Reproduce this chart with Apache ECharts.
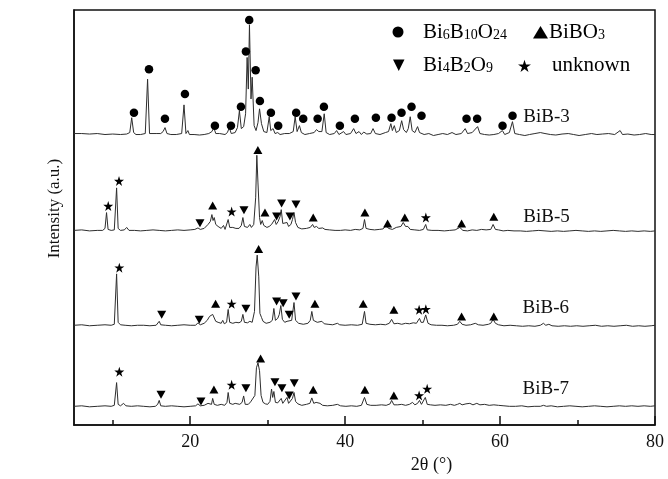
<!DOCTYPE html>
<html>
<head>
<meta charset="utf-8">
<title>XRD BiB samples</title>
<script src="https://cdn.jsdelivr.net/npm/echarts@6/dist/echarts.min.js"></script>
<style>
  html, body { margin: 0; padding: 0; background: #fff; }
  #chart { width: 668px; height: 479px; }
</style>
</head>
<body>
<div id="chart"></div>
<script>
// x ticks
const xTickLabels = [20, 40, 60, 80];
const xMinorTicks = [10, 30, 50, 70];

// traces: [2θ, intensity incl. stacking offset]
const bib3 = [
  [5,295],[6,295],[7,294.5],[8,295],[9,294],[10,294.5],[11,294],[11.8,294.5],[12.2,296],[12.45,311],[12.7,296],[13,294],[13.6,294],[14.2,295],[14.5,350],[14.75,295],[15,294],[15.6,295],[16.2,295],[16.5,297],[16.75,301],[17,295],[17.5,294],[18.2,294],[18.9,295],[19.2,324],[19.45,295],[19.7,298],[19.9,294],[20.5,294],[21.2,293.5],[21.8,294],[22.4,295],[22.8,297],[23.05,301],[23.3,295],[23.8,295],[24.5,294],[24.8,296],[25.05,301],[25.3,295],[25.8,296],[26.1,301],[26.35,318],[26.6,300],[26.9,302],[27.15,315],[27.35,372],[27.5,340],[27.65,405],[27.85,330],[28.0,352],[28.25,303],[28.5,298],[28.75,306],[28.95,320],[29.2,305],[29.5,297],[29.9,296],[30.2,312],[30.4,298],[30.7,300],[30.95,295],[31.3,296],[31.6,294],[32.2,295],[32.8,295],[33.3,297],[33.55,312],[33.8,297],[34.1,303],[34.35,296],[34.8,294],[35.4,295],[36.0,296],[36.3,299],[36.6,297],[37.0,297],[37.3,315],[37.55,296],[38.0,294],[38.6,295],[38.9,298],[39.2,294],[39.8,297],[40.1,294],[40.7,295],[41.1,300],[41.4,295],[41.8,297],[42.1,294],[42.4,296.5],[42.8,294.5],[43.3,295],[43.6,300],[43.9,295],[44.5,294],[45.2,296],[45.6,297],[45.9,305],[46.1,298],[46.35,303],[46.6,296],[47.0,298],[47.3,308],[47.55,299],[47.9,296],[48.15,300],[48.4,312],[48.65,298],[49.0,296],[49.35,302],[49.6,296],[50.2,294],[50.8,295],[51.4,293],[52.0,294],[52.6,295],[53.2,294],[53.8,296],[54.3,294],[55.0,295],[55.5,300],[55.8,295],[56.4,296],[57.1,302],[57.4,295],[58,294],[58.6,293.5],[59.2,294],[59.8,295],[60.3,298],[60.6,294],[61.2,296],[61.6,307],[61.9,295],[62.5,294],[63.2,293],[63.8,294],[64.5,295],[65.2,296],[65.8,295],[66.5,294],[67.2,293.5],[68,294.5],[68.8,295],[69.5,294],[70.2,293],[71,294],[71.8,295],[72.5,294],[73.2,294.5],[74,295],[74.8,294],[75.5,298],[75.8,294],[76.5,294.5],[77.3,293.5],[78,294],[78.8,295],[79.5,294],[80,294]
];
const bib5 = [
  [5,197],[6,197.5],[7,196.5],[8,197],[8.7,197],[9.0,199],[9.2,215],[9.4,198],[9.8,197],[10.2,197.5],[10.5,240],[10.7,199],[11.0,197],[11.5,197.5],[11.8,200],[12.1,197],[12.8,197],[13.6,196.5],[14.4,197],[15.2,197.5],[16,197],[16.8,196.5],[17.6,197],[18.4,197.5],[19.2,197],[20,197.5],[20.6,198],[21.0,199.5],[21.3,198],[21.8,199],[22.3,203],[22.6,206],[22.8,213],[22.95,207],[23.1,210],[23.3,203],[23.6,201],[24.0,199],[24.3,202],[24.5,198],[24.75,200],[24.9,208],[25.1,200],[25.5,200],[25.9,199],[26.3,199],[26.6,202],[26.8,210],[27.0,201],[27.4,200],[27.7,203],[27.9,200],[28.2,203],[28.45,230],[28.6,273],[28.75,245],[28.95,210],[29.1,203],[29.3,207],[29.5,202],[29.9,200],[30.2,201],[30.5,203],[30.7,201],[30.9,208],[31.1,203],[31.35,206],[31.6,211],[31.75,218],[31.95,204],[32.2,202],[32.5,205],[32.7,201],[33.0,203],[33.2,208],[33.4,215],[33.6,205],[33.9,200],[34.4,198.5],[35.0,199],[35.5,200],[35.8,203],[36.0,200],[36.3,201],[36.6,199],[37.1,199.5],[37.4,198],[38,197.5],[38.7,197],[39.4,197],[40,197.5],[40.7,197],[41.3,198],[41.9,197.5],[42.3,199],[42.5,208],[42.7,199],[43.2,198],[43.8,197.5],[44.4,198],[44.9,198.5],[45.3,202],[45.6,199],[46.1,198],[46.6,200],[47.2,201],[47.5,205],[47.8,201],[48.1,201],[48.4,198],[49.0,197.5],[49.6,197],[50.1,198],[50.4,203],[50.6,197.5],[51.2,197],[52,197],[52.8,196.5],[53.5,197],[54.2,197.5],[54.8,200],[55.2,197],[55.8,196.5],[56.4,197.5],[57.0,197],[57.6,198],[58.2,197.5],[58.8,198],[59.1,203],[59.4,198],[59.8,197.5],[60.4,196.5],[61,197],[61.8,196.5],[62.6,196.5],[63.4,196],[64.2,196.5],[65,197],[65.8,196.5],[66.6,196],[67.4,196.5],[68.2,196],[69,196.5],[69.8,197],[70.6,196.5],[71.4,196],[72.2,196.5],[73,196],[73.8,196.5],[74.6,197],[75.4,196.5],[76.2,196],[77,196.5],[77.8,196],[78.6,196.5],[79.4,196],[80,196.5]
];
const bib6 = [
  [5,101],[6,101.5],[7,100.5],[8,101],[9,101.5],[9.8,101],[10.2,102],[10.5,153],[10.7,104],[11.0,101.5],[11.6,101],[12.4,100.5],[13.2,101],[14,101],[14.8,100.5],[15.6,101],[15.85,103],[16.0,105],[16.2,101.5],[16.8,101],[17.6,100.5],[18.4,101],[19.2,101.5],[20,101],[20.7,101],[21.0,103.5],[21.3,101.5],[21.8,103],[22.2,106],[22.5,110],[22.7,108],[22.9,112],[23.1,110],[23.3,105],[23.6,104],[24.0,103],[24.2,106],[24.4,102.5],[24.7,104],[24.9,117],[25.1,104],[25.5,103],[25.9,104],[26.3,103.5],[26.6,105],[26.8,112],[27.0,104],[27.4,103.5],[27.7,105],[28.0,104],[28.3,115],[28.5,160],[28.65,172],[28.85,150],[29.0,113],[29.2,109],[29.4,105],[29.8,103],[30.3,104],[30.6,106],[30.8,118],[31.0,106],[31.3,108],[31.5,112],[31.7,121],[31.9,107],[32.2,104],[32.5,105],[32.7,103],[33.1,106],[33.4,124],[33.6,106],[34.0,103],[34.6,102],[35.2,103],[35.5,106],[35.7,115],[35.9,106],[36.1,108],[36.4,104],[37.0,105],[37.3,102.5],[37.8,102],[38.4,101.5],[39.0,103],[39.3,101.5],[40,101],[40.8,101.5],[41.6,101],[42.2,102],[42.5,115],[42.7,103],[43.2,102],[43.9,101.5],[44.6,102],[45.2,101.5],[45.7,103],[46.0,107],[46.3,102.5],[46.8,103],[47.3,102],[47.8,103],[48.3,102.5],[48.8,103.5],[49.2,103],[49.6,108],[49.8,104],[50.1,104],[50.4,111.5],[50.7,103],[51.1,101.5],[51.8,101],[52.5,101],[53.2,100.5],[54,101],[54.5,102],[54.8,105],[55.1,102],[55.6,101],[56.2,101.5],[56.8,103],[57.2,101.5],[57.8,101],[58.5,102],[58.8,103],[59.1,107],[59.4,103],[59.8,101.5],[60.5,100.5],[61.3,101],[62.1,100.5],[62.9,100],[63.7,100.5],[64.5,100],[65.2,101],[65.6,103],[65.9,101],[66.3,102],[66.7,100.5],[67.5,100],[68.3,100.5],[69.1,100],[69.9,100.5],[70.7,100],[71.5,100.5],[72.3,101],[73.1,100],[73.9,100.5],[74.7,100],[75.5,100.5],[76.3,101],[77.1,100],[77.9,100.5],[78.7,100],[79.5,100.5],[80,101]
];
const bib7 = [
  [5,19],[6,19.5],[7,18.5],[8,19],[9,19.5],[9.8,19],[10.2,20],[10.5,43],[10.7,21],[11.0,19.5],[11.4,22],[11.7,19.5],[12.4,19],[13.2,19.5],[14,19],[14.8,18.5],[15.5,19],[15.8,21],[16.0,25],[16.2,19.5],[16.8,19],[17.6,19.5],[18.4,19],[19.2,18.5],[20,19],[20.7,19.5],[21.0,21.5],[21.3,19.5],[21.8,20],[22.3,22],[22.55,23.5],[22.75,21],[22.9,27],[23.1,21],[23.5,20],[24.0,21],[24.2,22.5],[24.45,20],[24.75,23],[24.9,33],[25.1,22],[25.5,21],[25.8,22],[26.0,20.5],[26.4,21],[26.7,23],[26.9,29.5],[27.1,21],[27.5,21],[27.8,23.5],[28.05,22],[28.35,30],[28.55,58],[28.75,63],[28.95,55],[29.15,30],[29.4,23],[29.7,21.5],[30.0,21],[30.3,24],[30.5,36.5],[30.65,28],[30.8,34],[31.0,23],[31.3,22.5],[31.55,24],[31.75,27],[31.95,22],[32.2,21],[32.5,28],[32.7,22],[32.95,24],[33.2,27],[33.4,33],[33.6,24],[33.9,21.5],[34.4,20],[35.0,21],[35.45,22],[35.7,27.5],[35.95,22],[36.25,23],[36.5,21],[36.75,22],[37.1,20],[37.7,19.5],[38.4,20],[39.0,21],[39.4,19.5],[40.1,19],[40.8,19.5],[41.5,19],[42.1,20],[42.5,28],[42.8,21],[43.3,20],[44,20],[44.7,20.5],[45.3,20],[45.8,21.5],[46.0,25],[46.3,20.5],[46.8,20.5],[47.3,21],[47.8,20],[48.3,21],[48.7,23],[49.0,20.5],[49.35,22],[49.6,25],[49.85,21],[50.1,22],[50.35,28],[50.6,21],[51,20.5],[51.6,20],[52.3,20.5],[53,20],[53.6,21],[54.1,20],[54.5,21],[54.8,22],[55.1,20.5],[55.6,21.5],[56.1,22],[56.5,20.5],[57.0,22],[57.4,20.5],[58,21],[58.6,20],[59.2,20.5],[59.8,20],[60.5,19.5],[61.2,19],[62,19],[62.8,19.5],[63.6,18.5],[64.4,19],[65.2,19],[65.6,20],[66,19],[66.6,19.5],[67.4,18.5],[68.2,19],[69,19.5],[69.8,19],[70.6,18.5],[71.4,19],[72.2,19.5],[73,19],[73.8,18.5],[74.6,19],[75.4,19.5],[76.2,19],[77,19.5],[77.8,19],[78.6,19.5],[79.4,19],[80,19.5]
];

// phase markers: [2θ, height]
const circleMarks = [
  [12.74,316],[14.68,360],[16.74,310],[19.32,335],[23.19,303],[25.26,303],[26.55,322],[27.19,378],[27.62,410],[28.45,359],[29.0,328],[30.42,316],[31.36,303],[33.68,316],[34.59,310],[36.45,310],[37.26,322],[39.32,303],[41.26,310],[43.97,311],[45.99,311],[47.28,316],[48.57,322],[49.86,313],[55.67,310],[57.04,310],[60.32,303],[61.61,313]
];
const upTriMarks = [
  [22.9,222.3],[28.74,278.3],[29.65,215],[35.88,210],[42.55,215],[45.48,204],[47.7,210],[55.03,204],[59.19,210.7],
  [23.28,122.7],[28.83,178.3],[36.1,122.7],[42.33,122.7],[46.29,116.7],[55.03,110],[59.19,110],
  [23.06,36],[29.09,67.3],[35.88,35.7],[42.55,35.7],[46.29,30]
];
const downTriMarks = [
  [21.26,204.3],[26.94,217.3],[31.15,211],[31.8,224.3],[32.87,211],[33.65,223.3],
  [16.32,111.7],[21.17,106.7],[27.19,117.7],[31.15,125],[32.0,123.3],[32.78,111.7],[33.65,130],
  [16.23,30.7],[21.39,24],[27.19,37.3],[30.94,43.3],[31.84,37.3],[32.78,30],[33.43,42.3]
];
const starMarks = [
  [9.42,221.7],[10.81,247],[25.35,216],[50.42,210],
  [10.85,159.3],[25.35,122.7],[49.55,116.7],[50.42,117.3],
  [10.85,54],[25.35,40.7],[49.55,30],[50.59,36.7]
];

// sample names placed at [2θ, height, text]
const sampleLabels = [
  [66.0,312,'BiB-3'],[66.0,211,'BiB-5'],[65.9,118,'BiB-6'],[65.9,37,'BiB-7']
];

const SERIF = 'Liberation Serif';
const STAR = 'path://M50 0 L61.23 34.55 L97.55 34.55 L68.17 55.9 L79.39 90.45 L50 69.1 L20.61 90.45 L31.83 55.9 L2.45 34.55 L38.77 34.55 Z';
const LINE_COLOR = '#2e2e2e';

const chart = echarts.init(document.getElementById('chart'));

const traceSeries = [bib3, bib5, bib6, bib7].map(d => ({
  type: 'line',
  data: d,
  symbol: 'none',
  lineStyle: { color: LINE_COLOR, width: 1 },
  z: 2
}));

const markSeries = (data, symbol, size, rotate) => ({
  type: 'scatter',
  data: data,
  symbol: symbol,
  symbolSize: size,
  symbolRotate: rotate || 0,
  itemStyle: { color: '#000', opacity: 1 },
  z: 3
});

// legend text in rich format (subscripts)
const rich = {
  a: { fontFamily: SERIF, fontSize: 21, color: '#111', lineHeight: 21 },
  s: { fontFamily: SERIF, fontSize: 14, color: '#111', lineHeight: 14, verticalAlign: 'bottom', padding: [11, 0, 0, 0] }
};
const legendText = (x, y, text) => ({
  type: 'text', x: x, y: y,
  style: { text: text, rich: rich, verticalAlign: 'middle', align: 'left' },
  z: 10
});
const starPoints = (cx, cy, r) => {
  const pts = [];
  for (let i = 0; i < 10; i++) {
    const rr = i % 2 ? r * 0.382 : r;
    const a = -Math.PI / 2 + i * Math.PI / 5;
    pts.push([cx + rr * Math.cos(a), cy + rr * Math.sin(a)]);
  }
  return pts;
};

const option = {
  animation: false,
  backgroundColor: '#fff',
  grid: {
    left: 74, right: 13, top: 10, bottom: 49,
    show: true, borderColor: '#111', borderWidth: 1.5
  },
  xAxis: [
    {
      type: 'value', min: 5, max: 80, position: 'bottom',
      name: '2θ (°)', nameLocation: 'middle', nameGap: 25,
      nameTextStyle: { fontFamily: SERIF, fontSize: 18, color: '#111', padding: [0, 0, 0, 134] },
      axisLine: { show: true, lineStyle: { color: '#111', width: 1.5 } },
      axisTick: { show: true, inside: true, length: 9, customValues: xTickLabels, lineStyle: { color: '#111', width: 1.5 } },
      axisLabel: { show: true, customValues: xTickLabels, margin: 8, fontFamily: SERIF, fontSize: 18, color: '#111' },
      splitLine: { show: false }
    },
    {
      type: 'value', min: 5, max: 80, position: 'bottom',
      axisLine: { show: false },
      axisTick: { show: true, inside: true, length: 5, customValues: xMinorTicks, lineStyle: { color: '#111', width: 1.5 } },
      axisLabel: { show: false },
      splitLine: { show: false }
    }
  ],
  yAxis: {
    type: 'value', min: 0, max: 420,
    name: 'Intensity (a.u.)', nameLocation: 'middle', nameGap: 11, nameRotate: 90,
    nameTextStyle: { fontFamily: SERIF, fontSize: 17, color: '#111', padding: [0, 0, 0, 18] },
    axisLine: { show: true, lineStyle: { color: '#111', width: 1.5 } },
    axisTick: { show: false },
    axisLabel: { show: false },
    splitLine: { show: false }
  },
  graphic: [
    { type: 'circle', shape: { cx: 398, cy: 32, r: 5.5 }, style: { fill: '#000' }, z: 10 },
    legendText(423, 32, '{a|Bi}{s|6}{a|B}{s|10}{a|O}{s|24}'),
    { type: 'polygon', shape: { points: [[533, 38.5], [548, 38.5], [540.5, 26]] }, style: { fill: '#000' }, z: 10 },
    legendText(549, 32, '{a|BiBO}{s|3}'),
    { type: 'polygon', shape: { points: [[393, 59.5], [404.5, 59.5], [398.75, 71]] }, style: { fill: '#000' }, z: 10 },
    legendText(423, 65, '{a|Bi}{s|4}{a|B}{s|2}{a|O}{s|9}'),
    { type: 'polygon', shape: { points: starPoints(524.5, 66.5, 6.8) }, style: { fill: '#000' }, z: 10 },
    legendText(552, 65, '{a|unknown}')
  ],
  series: [
    ...traceSeries,
    markSeries(circleMarks, 'circle', 8.5),
    markSeries(upTriMarks, 'triangle', [9, 8]),
    markSeries(downTriMarks, 'triangle', [9, 8], 180),
    markSeries(starMarks, STAR, 10),
    {
      type: 'scatter',
      data: sampleLabels,
      symbolSize: 1,
      itemStyle: { color: 'rgba(0,0,0,0)', opacity: 1 },
      label: {
        show: true, position: 'inside',
        formatter: p => p.value[2],
        fontFamily: SERIF, fontSize: 19, color: '#111',
        textBorderWidth: 0
      },
      z: 4
    }
  ]
};

chart.setOption(option);
window.addEventListener('resize', () => chart.resize());
</script>
</body>
</html>
